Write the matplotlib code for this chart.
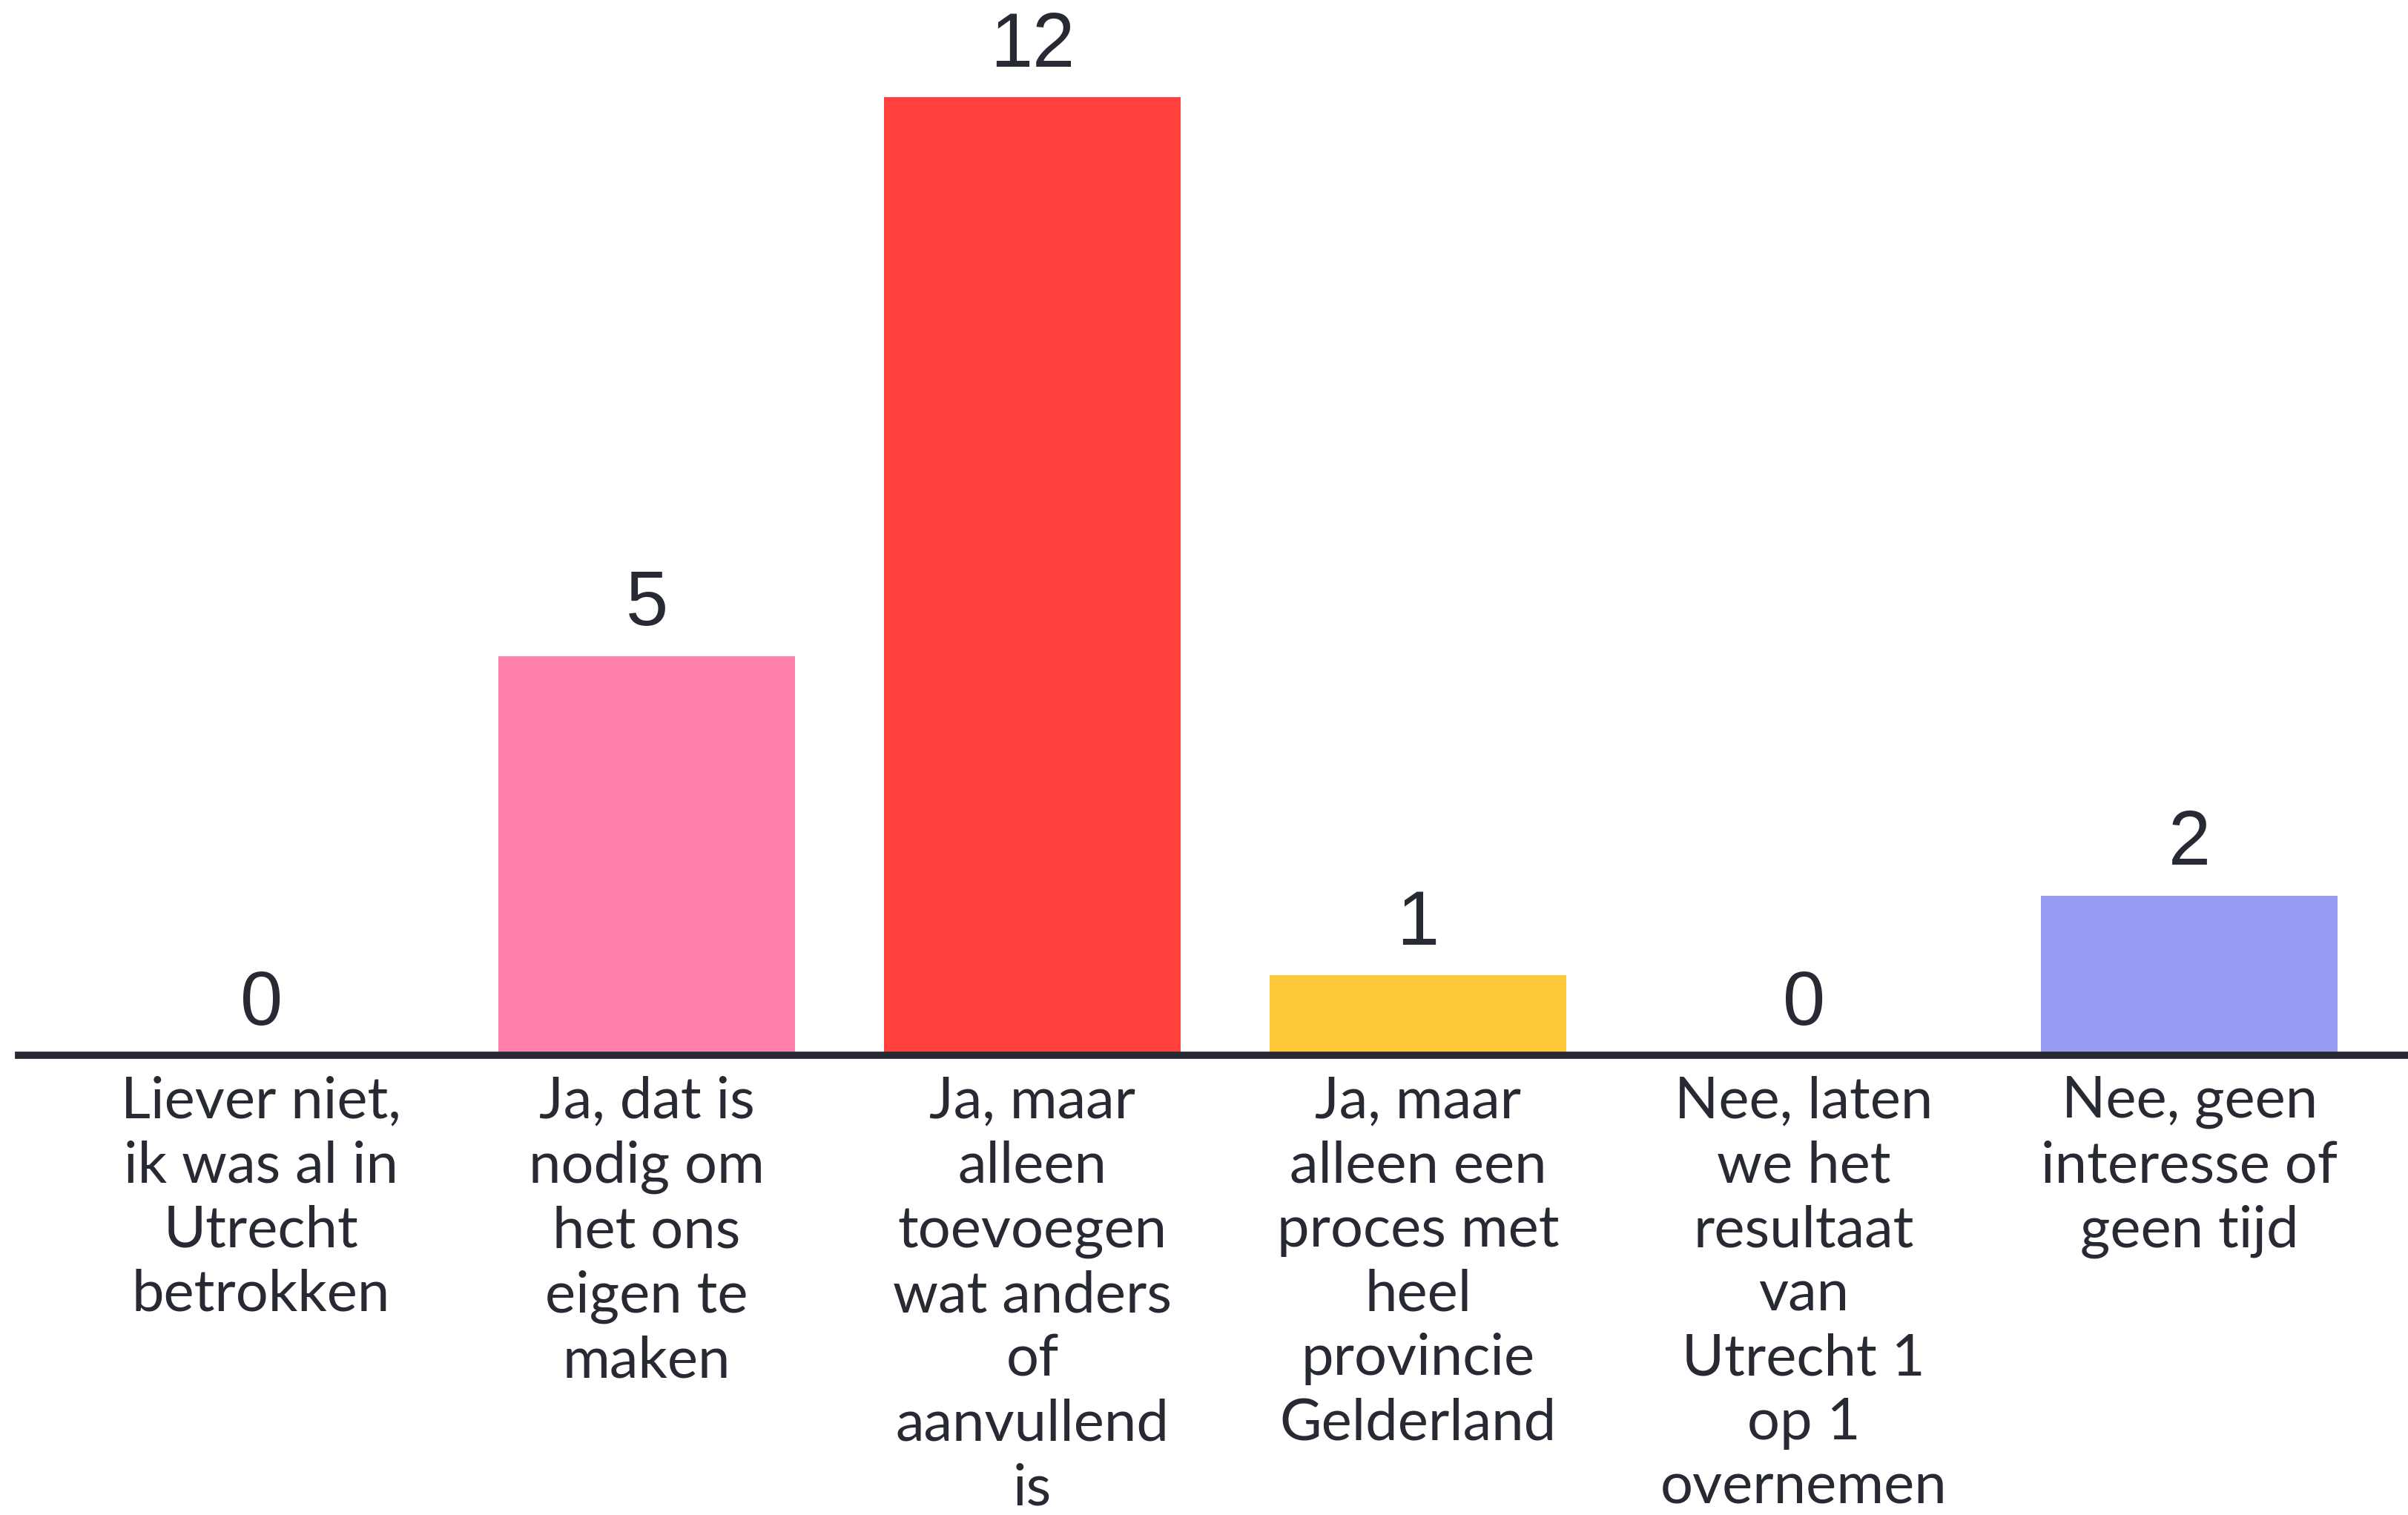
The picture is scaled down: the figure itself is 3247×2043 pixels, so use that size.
import matplotlib
matplotlib.use("Agg")
import matplotlib.pyplot as plt

categories = [
    "Liever niet,\nik was al in\nUtrecht\nbetrokken",
    "Ja, dat is\nnodig om\nhet ons\neigen te\nmaken",
    "Ja, maar\nalleen\ntoevoegen\nwat anders\nof\naanvullend\nis",
    "Ja, maar\nalleen een\nproces met\nheel\nprovincie\nGelderland",
    "Nee, laten\nwe het\nresultaat\nvan\nUtrecht 1\nop 1\novernemen",
    "Nee, geen\ninteresse of\ngeen tijd",
]
counts = [0, 5, 12, 1, 0, 2]
colors = ["#5769e7", "#ff80a9", "#ff403d", "#ffc73a", "#2e3b4e", "#9a9cf4"]

text_color = "#272a33"

fig = plt.figure(figsize=(32.47, 20.43), dpi=100)
ax = fig.add_axes([25 / 3247, 620 / 2043, 1 - 25 / 3247, 1423 / 2043])

x = list(range(len(counts)))
ax.bar(x, counts, width=0.77, color=colors, zorder=2)

for xi, v in zip(x, counts):
    ax.annotate(str(v), (xi, v), xytext=(0, 14), textcoords="offset points",
                ha="center", va="bottom", fontsize=74, color=text_color,
                family="Liberation Sans")

ax.set_xlim(-0.629, 5.567)
ax.set_ylim(0, 13.22)

for s in ["top", "right", "left"]:
    ax.spines[s].set_visible(False)
ax.spines["bottom"].set_linewidth(7)
ax.spines["bottom"].set_color(text_color)
ax.spines["bottom"].set_zorder(3)

ax.set_yticks([])
ax.set_xticks(x)
ax.set_xticklabels(categories, fontsize=56, color=text_color, family="Lato",
                   linespacing=1.275, va="top")
ax.tick_params(axis="x", length=0, pad=20)

fig.savefig("out.png", dpi=100, facecolor="white")
